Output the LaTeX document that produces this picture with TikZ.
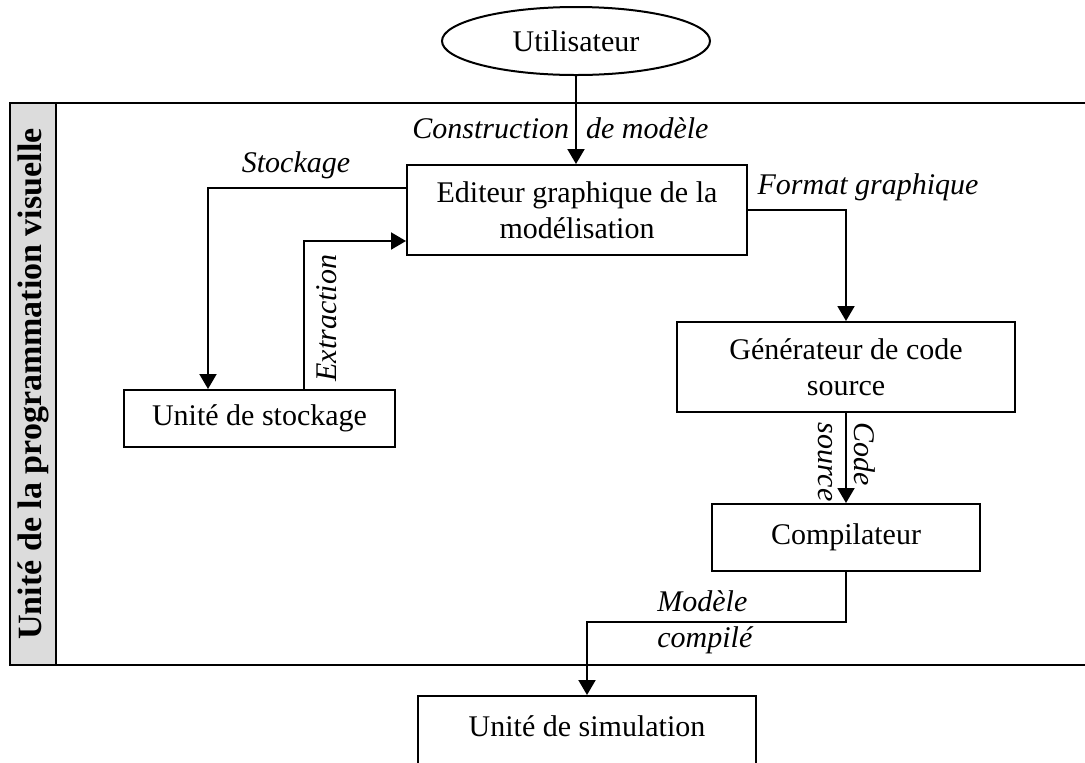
\documentclass[tikz,border=0pt]{standalone}
\usepackage{fontspec}
\setmainfont{Liberation Serif}
\usetikzlibrary{arrows.meta,shapes.geometric}
\definecolor{bandgray}{RGB}{220,220,220}
\tikzset{
  box/.style={draw,line width=1pt,rectangle,align=center,inner sep=2pt},
  arr/.style={draw,line width=1pt,-{Triangle[length=7.5pt,width=8.5pt]}},
  lab/.style={font=\fontsize{15}{18}\selectfont\itshape,inner sep=0pt},
  frame/.style={line width=1.2pt}
}
\begin{document}
\begin{tikzpicture}[x=0.5pt,y=-0.5pt,font=\fontsize{15}{18}\selectfont]
\useasboundingbox (0,0) rectangle (1085,762);
\clip (0,0) rectangle (1085,762);
\fill[white] (0,0) rectangle (1085,762);

% frame of the visual programming unit
\draw[frame,fill=bandgray] (10,103) rectangle (56,665);
\draw[frame] (56,103) -- (1095,103);
\draw[frame] (56,665) -- (1095,665);
\node[rotate=90,font=\fontsize{17}{20}\selectfont\bfseries] (band) at (33,384) {Unité de la programmation visuelle};

% nodes
\node[draw,line width=1pt,ellipse,minimum width=134pt,minimum height=34pt,inner sep=0pt] (user) at (576,41) {Utilisateur};
\node[box,minimum width=170pt,minimum height=45pt] (editor) at (577,210) {Editeur graphique de la\\modélisation};
\node[box,minimum width=135.5pt,minimum height=28.5pt] (store) at (259.5,418.5) {Unité de stockage};
\node[box,minimum width=169pt,minimum height=45pt] (gen) at (846,367) {Générateur de code\\source};
\node[box,minimum width=134pt,minimum height=33.5pt] (comp) at (846,537.5) {Compilateur};
\node[box,anchor=north,minimum width=169pt,inner ysep=4pt,text height=16pt,text depth=40pt] (sim) at (587,695) {Unité de simulation};

% connector helpers
\coordinate (stoX) at (208,0);
\coordinate (extX) at (304,0);
\coordinate (cmpY) at (0,622);

% connectors
\draw[arr] (user.south) -- (user.south |- editor.north);
\draw[arr] ([yshift=11pt]editor.west) -| (stoX |- store.north);
\draw[arr] (extX |- store.north) |- ([yshift=-15.5pt]editor.west);
\draw[arr] (editor.east) -| (gen.north);
\draw[arr] (gen.south) -- (comp.north);
\draw[arr] (comp.south) -- (comp.south |- cmpY) -| (sim.north);

% connector labels
\node[lab,anchor=west] (lcons) at (412,128) {Construction\hspace{8.5pt}de modèle};
\node[lab] (lsto) at (296,165) {Stockage};
\node[lab,rotate=90] (lext) at (327,318) {Extraction};
\node[lab] (lfmt) at (868,187) {Format graphique};
\node[lab,rotate=-90,align=left] (lcode) at (847,462) {Code\\source};
\node[lab,align=left,anchor=west] (lmod) at (657,622) {Modèle\\compilé};
\end{tikzpicture}
\end{document}
